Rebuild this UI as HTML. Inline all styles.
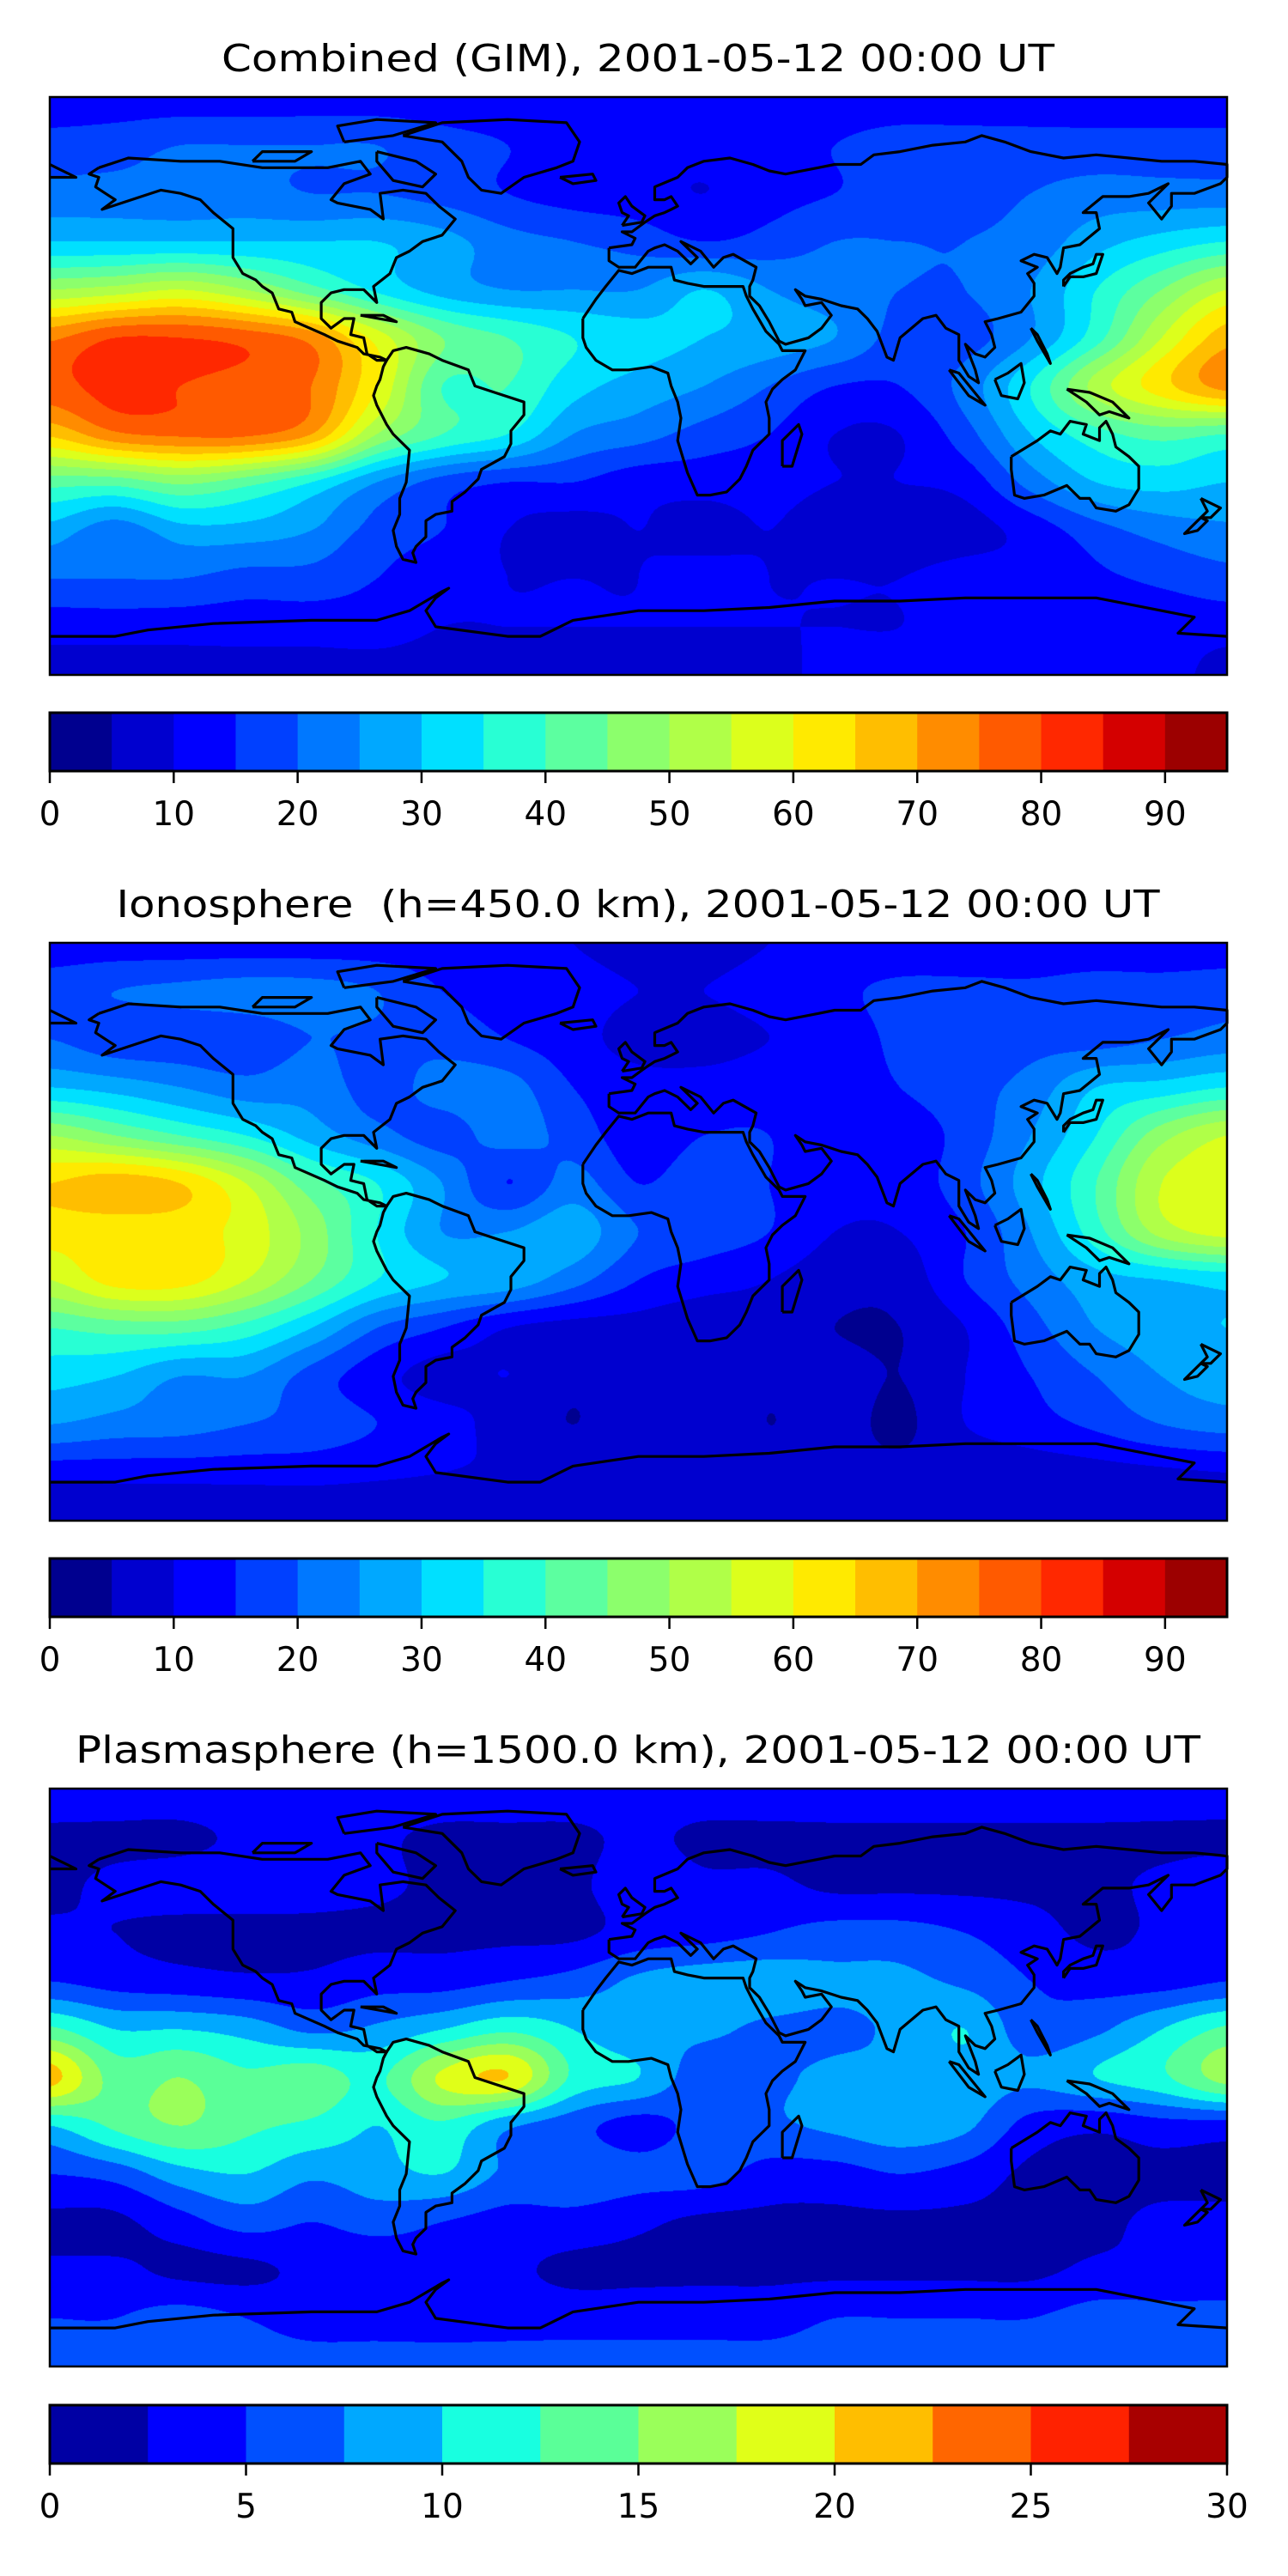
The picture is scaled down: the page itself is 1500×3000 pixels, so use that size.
<!DOCTYPE html>
<html><head><meta charset="utf-8"><style>
html,body{margin:0;padding:0;background:#fff;}
body{width:1500px;height:3000px;position:relative;overflow:hidden;font-family:"DejaVu Sans","Liberation Sans",sans-serif;}
canvas{position:absolute;}
#overlay{position:absolute;left:0;top:0;}
</style></head><body>
<canvas id="map1" width="1371" height="673" style="left:58px;top:113px"></canvas>
<canvas id="map2" width="1371" height="673" style="left:58px;top:1098px"></canvas>
<canvas id="map3" width="1371" height="673" style="left:58px;top:2083px"></canvas>
<svg id="overlay" width="1500" height="3000"></svg>
<script>
// grid: lat rows 90..-90 step 15, lon cols -180..180 step 20
const lats=[90,75,60,45,30,15,0,-15,-30,-45,-60,-75,-90];
const lons=[-180,-160,-140,-120,-100,-80,-60,-40,-20,0,20,40,60,80,100,120,140,160,180];
const combinedTEC=[
[12,12,12,12,12,12,12,12,12,12,12,12,12,12,12,12,12,12,12],
[17,18,20,20,20,20,17,15,13,12,12,13,15,17,17,17,17,17,17],
[22,22,22,22,20,20,18,15,13,12,10,13,15,17,18,20,22,22,22],
[30,30,30,30,30,30,27,22,20,18,15,17,20,20,20,22,28,32,35],
[50,52,55,50,42,34,28,25,25,25,30,25,22,20,20,25,35,45,55],
[74,80,80,78,73,58,45,40,35,32,30,28,25,18,18,25,38,55,68],
[78,82,80,78,75,60,40,40,32,28,25,20,15,15,22,35,52,63,72],
[66,74,76,76,70,50,40,35,25,22,18,15,10,10,18,30,38,42,40],
[42,42,46,42,35,25,18,15,15,12,12,12,10,10,12,22,30,32,30],
[28,22,28,28,25,18,15,10,8,10,8,10,7,7,8,12,18,22,24],
[20,20,20,18,18,15,12,10,10,10,12,10,10,10,12,12,14,16,18],
[12,12,12,12,12,12,10,10,10,10,10,10,10,10,12,12,12,12,12],
[8,8,8,8,8,8,8,8,8,8,8,8,12,12,12,12,12,12,8]];
const ionoTEC=[
[12,12,12,12,12,12,12,12,10,8,8,10,12,12,12,12,12,12,12],
[18,20,21,22,22,20,15,13,12,10,10,12,14,16,16,16,17,17,18],
[20,17,17,17,20,19,18,15,12,8,8,10,12,16,16,18,18,20,22],
[30,28,25,22,23,18,22,22,15,12,12,13,12,15,18,22,30,32,35],
[50,45,40,35,28,22,18,22,18,12,15,15,12,12,17,25,35,48,55],
[65,68,65,55,42,35,25,15,22,15,18,15,12,12,18,28,40,55,57],
[62,62,62,58,48,35,25,25,28,20,18,15,10,10,15,25,38,52,57],
[55,62,62,55,45,35,30,28,22,15,12,10,7,7,15,22,28,30,32],
[40,42,42,38,30,20,15,10,8,8,7,8,5,5,10,18,25,28,30],
[32,30,25,25,18,12,8,10,6,8,8,6,7,5,10,15,20,25,28],
[25,23,22,20,18,15,12,8,5,8,8,5,7,4,10,13,16,20,22],
[12,12,12,12,12,11,10,9,8,8,8,7,6,6,6,7,8,9,10],
[5,5,5,5,5,5,5,5,5,5,5,5,5,5,5,5,5,5,5]];
const plasmaTEC=[
[4,4,4,4,4,4,4,4,4,4,4,4,4,4,4,4,4,4,4],
[2,2,2,3,4,3,2,2,2,3,2,2,2,2,2,2,2,2,2],
[2,3,3.5,3.5,3.5,3,2,2,2,4,3,3,2,2,2,2,2,3,4],
[3,2.5,2,2,2,2,2,2,2,3.5,4,5,6,6,5,3.5,2,3,4],
[5,4,3.5,3,3,4,4,5,6,8,9,9,8,8,7,5,4,4,5],
[13,10,10,9,7,8,10,12,10,8,8,7,7,8,10,6,7,10,13],
[21,14,15,13,14,12,18,20,12,10,6,7,8,8,9,8,10,12,16],
[10,13,15,13,12,10,12,8,6,4,6,7,8,9,8,4,3,4,4],
[5,6,9,10,8,9,10,7,7,6,6,4,4,5,4,2,2,2,2],
[2,2,4,6,5,6,5,4,4,3,2,2,2,2,2,2,2,3,3],
[3,3,2,2,3,3,4,3,2,2,2,2,2,2,2,2,3,3,3],
[5,5,6,5,4,4,4,4,4,4,4,4,5,5,5,5,6,6,6],
[6,6,6,6,6,6,6,6,6,6,6,6,6,6,6,6,6,6,6]];
const jet19=["#00008f","#0000cf","#0000ff","#0040ff","#0078ff","#00a8ff","#00e0ff","#28ffd4","#5cffa0","#8cff6c","#b0ff48","#dcff1c","#ffea00","#ffbe00","#ff8c00","#ff5a00","#ff2800","#d40000","#9c0000"];
const jet12=["#0000a4","#0000ff","#0050ff","#00a8ff","#18ffe0","#5aff98","#9aff5a","#e0ff18","#ffbe00","#ff6600","#ff2200","#a80000"];
const ticks1=[0,10,20,30,40,50,60,70,80,90];
const ticks3=[0,5,10,15,20,25,30];

const W=1371,H=673,X0=58;
function hex(c){return [parseInt(c.substr(1,2),16),parseInt(c.substr(3,2),16),parseInt(c.substr(5,2),16)];}
function cr(p0,p1,p2,p3,t){return 0.5*((2*p1)+(-p0+p2)*t+(2*p0-5*p1+4*p2-p3)*t*t+(-p0+3*p1-3*p2+p3)*t*t*t);}
function drawField(id,grid,colors,vmax){
  const cv=document.getElementById(id),ctx=cv.getContext('2d');
  const img=ctx.createImageData(W,H),d=img.data;
  const rgb=colors.map(hex),n=colors.length,nr=lats.length,nc=lons.length;
  const g=(i,j)=>grid[Math.max(0,Math.min(nr-1,i))][Math.max(0,Math.min(nc-1,j))];
  for(let py=0;py<H;py++){
    const lat=90-(py+0.5)/H*180, gi=(90-lat)/15, i=Math.min(nr-2,Math.floor(gi)), ti=gi-i;
    for(let px=0;px<W;px++){
      const lon=-180+(px+0.5)/W*360, gj=(lon+180)/20, j=Math.min(nc-2,Math.floor(gj)), tj=gj-j;
      const r=[];
      for(let k=-1;k<=2;k++) r.push(cr(g(i+k,j-1),g(i+k,j),g(i+k,j+1),g(i+k,j+2),tj));
      let v=cr(r[0],r[1],r[2],r[3],ti);
      let idx=Math.floor(v/vmax*n); idx=Math.max(0,Math.min(n-1,idx));
      const o=(py*W+px)*4,c=rgb[idx];
      d[o]=c[0];d[o+1]=c[1];d[o+2]=c[2];d[o+3]=255;
    }
  }
  ctx.putImageData(img,0,0);
}
drawField('map1',combinedTEC,jet19,95);
drawField('map2',ionoTEC,jet19,95);
drawField('map3',plasmaTEC,jet12,30);

const coasts={
"north-america":[[-165,68],[-156,71],[-140,70],[-128,70],[-115,68],[-95,68],[-85,70],[-82,66],[-90,63],[-94,58],[-92,57],[-82,55],[-78,52],[-79,60],[-72,61],[-65,60],[-61,56],[-56,52],[-60,47],[-66,45],[-70,42],[-74,40],[-76,35],[-81,31],[-80,26],[-82,28],[-84,30],[-90,30],[-94,29],[-97,26],[-97,21],[-94,18],[-90,21],[-87,21],[-88,16],[-84,15],[-83,10],[-80,8],[-77,8],[-79,9],[-84,10],[-86,12],[-92,14],[-96,16],[-105,20],[-106,23],[-110,24],[-112,29],[-115,31],[-117,33],[-121,35],[-124,40],[-124,46],[-124,49],[-130,54],[-134,58],[-140,60],[-146,61],[-152,59],[-158,57],[-164,55],[-160,58],[-163,60],[-166,62],[-165,65],[-168,66],[-165,68]],
"south-america":[[-77,8],[-75,11],[-71,12],[-64,10],[-60,8],[-52,5],[-50,0],[-44,-2],[-35,-5],[-35,-9],[-39,-14],[-39,-18],[-41,-22],[-48,-26],[-49,-29],[-53,-33],[-57,-36],[-57,-39],[-62,-40],[-65,-42],[-65,-47],[-68,-50],[-69,-52],[-68,-55],[-72,-54],[-74,-50],[-75,-45],[-73,-40],[-73,-35],[-71,-30],[-70,-20],[-75,-15],[-77,-12],[-80,-6],[-81,-3],[-80,0],[-79,2],[-78,6],[-77,8]],
"greenland":[[-72,78],[-60,82],[-40,83],[-22,82],[-18,76],[-20,70],[-25,68],[-35,65],[-42,60],[-48,61],[-52,65],[-54,70],[-60,76],[-72,78]],
"africa":[[-17,21],[-17,15],[-16,12],[-13,8],[-8,5],[-3,5],[4,6],[9,4],[10,0],[12,-5],[13,-10],[12,-17],[15,-27],[18,-34],[22,-34],[27,-33],[31,-29],[33,-25],[35,-20],[40,-15],[40,-10],[39,-5],[41,-1],[44,2],[48,5],[51,11],[44,11],[43,13],[39,17],[35,24],[33,28],[32,31],[26,31],[20,31],[15,32],[11,33],[10,37],[3,37],[-2,35],[-6,36],[-10,31],[-13,27],[-17,21]],
"eurasia":[[-9,43],[-9,39],[-6,37],[-1,37],[3,42],[5,43],[8,44],[12,42],[16,38],[18,40],[13,45],[19,42],[23,37],[26,40],[29,41],[36,37],[35,33],[34,31],[34,28],[37,25],[40,20],[43,14],[45,13],[52,15],[56,18],[59,22],[56,26],[51,25],[50,27],[48,30],[51,28],[56,27],[62,25],[67,24],[70,21],[73,17],[76,9],[78,8],[80,15],[87,21],[91,22],[94,18],[98,16],[98,8],[101,3],[104,1],[103,5],[100,13],[103,10],[106,9],[109,12],[108,16],[106,20],[110,21],[117,23],[121,28],[121,32],[119,35],[122,37],[117,39],[121,41],[125,40],[128,35],[129,37],[130,43],[135,44],[141,49],[140,54],[136,54],[142,59],[150,59],[156,60],[162,63],[156,57],[160,52],[163,56],[163,60],[170,60],[178,63],[180,65],[180,69],[170,70],[160,70],[150,71],[140,72],[130,71],[120,73],[112,76],[105,78],[100,76],[90,75],[80,73],[72,72],[68,69],[60,69],[55,68],[45,66],[40,67],[35,69],[28,71],[20,70],[15,68],[12,65],[5,62],[5,58],[8,58],[10,59],[12,56],[10,55],[8,54],[5,53],[2,51],[-2,48],[-5,48],[-1,46],[-2,44],[-9,43]],
"chukotka":[[-180,65],[-172,65],[-178,68],[-180,69]],
"australia":[[114,-22],[114,-26],[115,-34],[118,-35],[124,-34],[131,-31],[135,-35],[138,-35],[140,-38],[146,-39],[150,-37],[153,-32],[153,-25],[150,-22],[146,-19],[145,-15],[143,-11],[141,-13],[141,-17],[136,-15],[137,-12],[132,-11],[129,-15],[126,-14],[122,-17],[114,-22]],
"antarctica":[[-180,-78],[-160,-78],[-150,-76],[-130,-74],[-100,-73],[-80,-73],[-70,-70],[-60,-64],[-58,-63],[-62,-66],[-65,-70],[-62,-75],[-40,-78],[-30,-78],[-20,-73],[0,-70],[20,-70],[40,-69],[60,-67],[80,-67],[100,-66],[120,-66],[140,-66],[160,-70],[170,-72],[165,-77],[180,-78]],
"britain":[[-5,50],[1,51],[2,53],[-2,56],[-4,59],[-6,57],[-5,54],[-3,53],[-5,50]],
"japan":[[130,31],[132,34],[136,34],[140,35],[141,38],[142,41],[140,41],[139,38],[136,37],[132,35],[130,33],[130,31]],
"madagascar":[[44,-25],[47,-25],[50,-15],[49,-12],[44,-17],[44,-25]],
"borneo":[[109,2],[111,-3],[116,-4],[118,1],[117,7],[113,4],[109,2]],
"sumatra":[[95,5],[98,4],[106,-6],[101,-3],[95,5]],
"new-guinea":[[131,-1],[138,-2],[145,-5],[150,-10],[144,-8],[141,-9],[137,-5],[131,-1]],
"philippines":[[120,18],[122,14],[126,7],[125,10],[122,16],[120,18]],
"nz-north":[[172,-35],[178,-38],[175,-41],[172,-41],[174,-39],[172,-35]],
"nz-south":[[172,-41],[174,-42],[171,-45],[167,-46],[172,-41]],
"baffin":[[-80,73],[-68,70],[-62,66],[-66,62],[-75,64],[-80,70],[-80,73]],
"ellesmere":[[-90,76],[-75,78],[-62,82],[-80,83],[-92,81],[-90,76]],
"victoria-island":[[-118,70],[-105,70],[-100,73],[-115,73],[-118,70]],
"cuba":[[-85,22],[-74,20],[-78,22],[-85,22]],
"iceland":[[-24,65],[-14,66],[-13,64],[-20,63],[-24,65]]
};
const NS='http://www.w3.org/2000/svg';
const svg=document.getElementById('overlay');
function el(tag,attrs,parent){const e=document.createElementNS(NS,tag);for(const k in attrs)e.setAttribute(k,attrs[k]);(parent||svg).appendChild(e);return e;}
const maps=[
 {top:113,title:"Combined (GIM), 2001-05-12 00:00 UT",tlen:970,name:'combined'},
 {top:1098,title:"Ionosphere\u00a0\u00a0(h=450.0 km), 2001-05-12 00:00 UT",tlen:1215,name:'ionosphere'},
 {top:2083,title:"Plasmasphere (h=1500.0 km), 2001-05-12 00:00 UT",tlen:1310,name:'plasmasphere'}];
const xs=lon=>X0+(lon+180)/360*W;
maps.forEach((m,mi)=>{
  const t=el('text',{x:743,y:m.top-30,'text-anchor':'middle','font-size':44,'font-family':'DejaVu Sans, Liberation Sans, sans-serif',textLength:m.tlen,lengthAdjust:'spacingAndGlyphs',fill:'#000'});
  t.textContent=m.title;
  
  
  const gC=el('g',{});
  
  
  const ys=lat=>m.top+(90-lat)/180*H;
  for(const k in coasts){
    const p=el('polyline',{points:coasts[k].map(q=>xs(q[0]).toFixed(1)+','+ys(q[1]).toFixed(1)).join(' '),fill:'none',stroke:'#000','stroke-width':3.2,'stroke-linejoin':'round'},gC);
    
    
  }
  const fr=el('rect',{x:X0,y:m.top,width:W,height:H,fill:'none',stroke:'#000','stroke-width':2.5});
  
  
});
function colorbar(top,colors,vmax,ticks,name){
  const g=el('g',{});
  
  
  const h=68,n=colors.length,step=vmax/n;
  colors.forEach((c,i)=>{
    const x0=X0+(i*step)/vmax*W,x1=X0+((i+1)*step)/vmax*W;
    const r=el('rect',{x:x0,y:top,width:x1-x0+0.6,height:h,fill:c},g);
    
    
  });
  el('rect',{x:X0,y:top,width:W,height:h,fill:'none',stroke:'#000','stroke-width':3},g);
  ticks.forEach(v=>{
    const x=X0+v/vmax*W;
    const tk=el('line',{x1:x,x2:x,y1:top+h,y2:top+h+14,stroke:'#000','stroke-width':2.5},g);
    
    
    const lb=el('text',{x:x,y:top+h+63,'text-anchor':'middle','font-size':39,'font-family':'DejaVu Sans, Liberation Sans, sans-serif',fill:'#000'},g);
    lb.textContent=v;
    
    
  });
}
colorbar(830,jet19,95,ticks1,'combined-colorbar');
colorbar(1815,jet19,95,ticks1,'ionosphere-colorbar');
colorbar(2801,jet12,30,ticks3,'plasmasphere-colorbar');
</script>
</body></html>
